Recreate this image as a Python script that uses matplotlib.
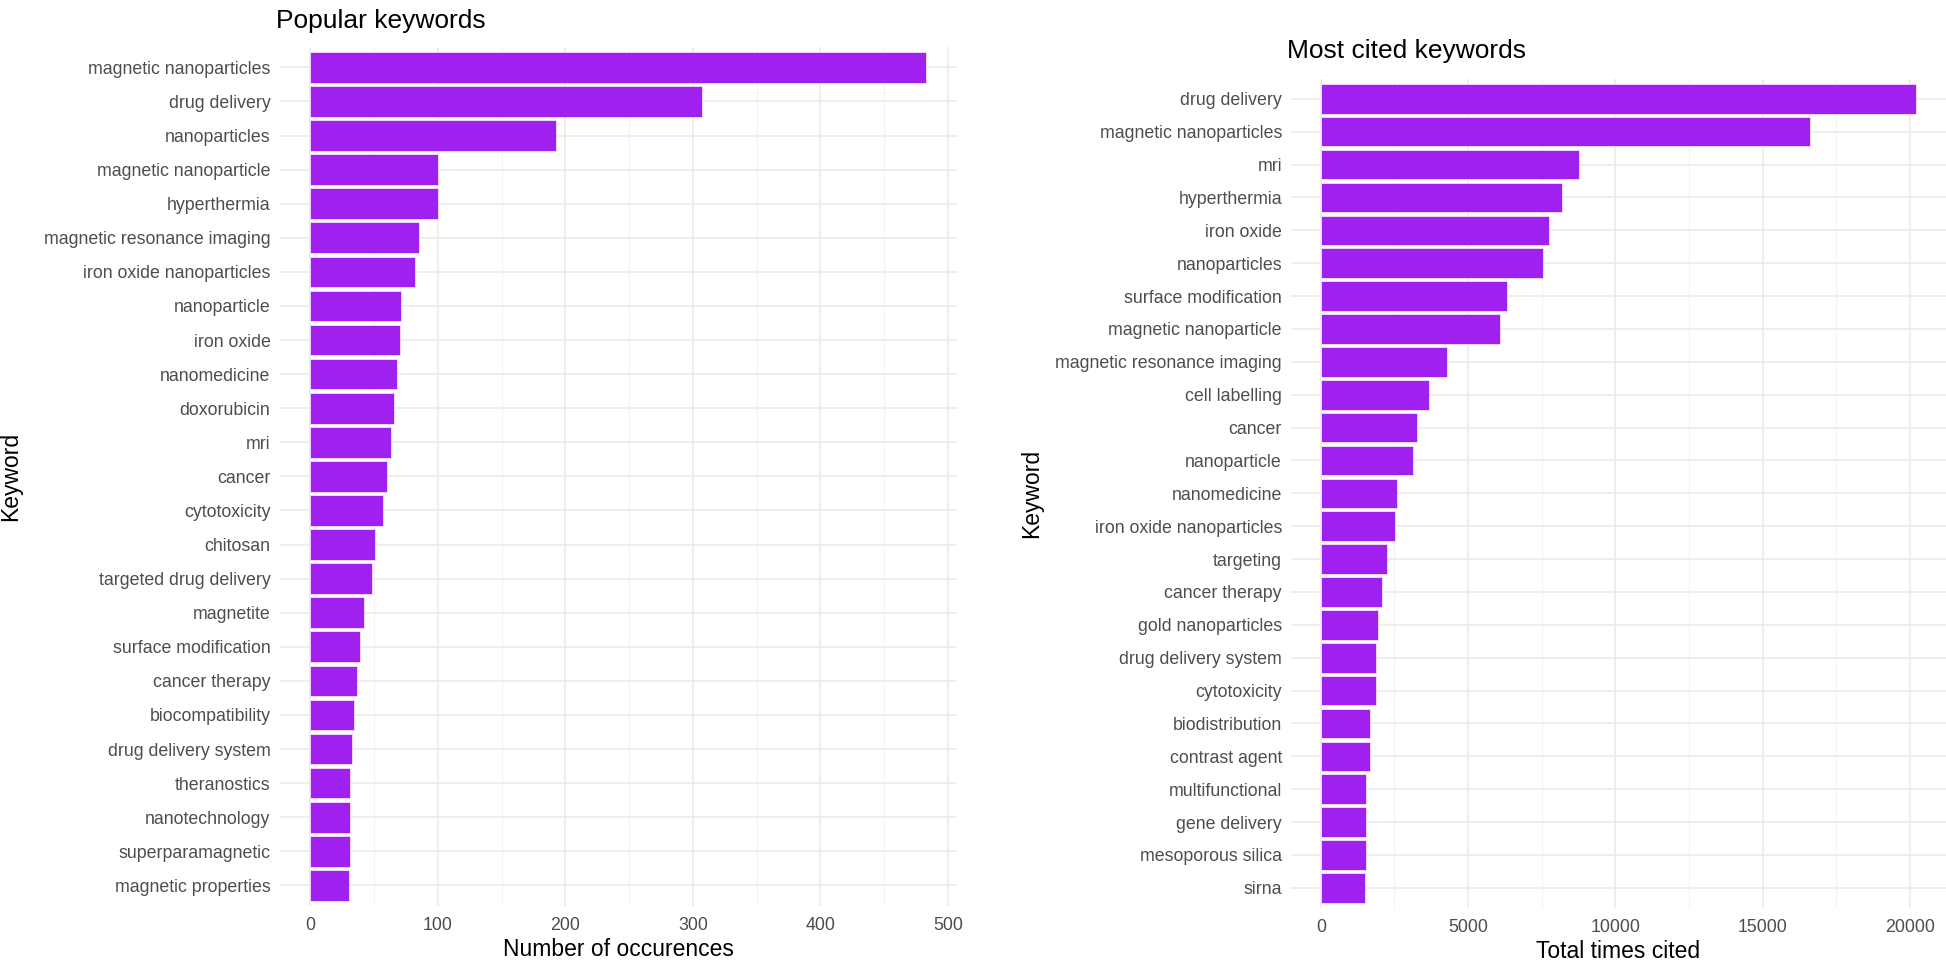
import matplotlib
matplotlib.use("Agg")
import matplotlib.pyplot as plt
import numpy as np

plt.rcParams['font.family'] = ['Liberation Sans', 'DejaVu Sans']

# left panel: number of occurences
pop_keywords = ["magnetic nanoparticles", "drug delivery", "nanoparticles",
                "magnetic nanoparticle", "hyperthermia", "magnetic resonance imaging",
                "iron oxide nanoparticles", "nanoparticle", "iron oxide", "nanomedicine",
                "doxorubicin", "mri", "cancer", "cytotoxicity", "chitosan",
                "targeted drug delivery", "magnetite", "surface modification",
                "cancer therapy", "biocompatibility", "drug delivery system",
                "theranostics", "nanotechnology", "superparamagnetic", "magnetic properties"]
pop_counts = [483, 307, 193, 100, 100, 85, 82, 71, 70, 68, 66, 63, 60, 57, 51,
              48, 42, 39, 37, 34, 33, 31, 31, 31, 30]

# right panel: total times cited
cited_keywords = ["drug delivery", "magnetic nanoparticles", "mri", "hyperthermia",
                  "iron oxide", "nanoparticles", "surface modification",
                  "magnetic nanoparticle", "magnetic resonance imaging", "cell labelling",
                  "cancer", "nanoparticle", "nanomedicine", "iron oxide nanoparticles",
                  "targeting", "cancer therapy", "gold nanoparticles",
                  "drug delivery system", "cytotoxicity", "biodistribution",
                  "contrast agent", "multifunctional", "gene delivery",
                  "mesoporous silica", "sirna"]
cited_totals = [20210, 16590, 8750, 8190, 7730, 7540, 6330, 6070, 4290, 3660,
                3270, 3140, 2580, 2510, 2260, 2070, 1950, 1890, 1860, 1680,
                1680, 1550, 1550, 1550, 1510]

pop_ticks = [0, 100, 200, 300, 400, 500]
pop_minor = [50, 150, 250, 350, 450]
cited_ticks = [0, 5000, 10000, 15000, 20000]
cited_minor = [2500, 7500, 12500, 17500]

BAR = "#A020F0"
GRID = "#EBEBEB"
W, H = 1946, 963

fig = plt.figure(figsize=(W / 100, H / 100), dpi=100)


def panel(rect, labels, values, ticks, minor, title, title_base, xlabel, xlab_y, ylab_x):
    ax = fig.add_axes(rect)
    n = len(labels)
    ypos = np.arange(n, 0, -1)
    ax.barh(ypos, values, height=0.9, color=BAR, edgecolor="#F3E0FA", lw=0.6, zorder=3)
    ax.set_yticks(ypos, labels)
    ax.set_ylim(0.4, n + 0.6)
    top = max(values)
    ax.set_xlim(-0.05 * top, 1.05 * top)
    ax.set_xticks(ticks)
    ax.set_xticks(minor, minor=True)
    ax.grid(True, which='major', color=GRID, lw=1.2, zorder=0)
    ax.grid(True, which='minor', axis='x', color="#F2F2F2", lw=0.7, zorder=0)
    ax.tick_params(which='both', length=0, labelsize=12.8, labelcolor="#4D4D4D")
    ax.tick_params(axis='y', pad=6.5)
    ax.tick_params(axis='x', pad=8)
    for s in ax.spines.values():
        s.set_visible(False)
    x0, y0, w, h = rect
    fig.text(x0 - 4 / W, 1 - title_base / H, title, ha='left', va='baseline', fontsize=19)
    fig.text(x0 + w / 2, 1 - xlab_y / H, xlabel, ha='center', va='center', fontsize=16.5)
    fig.text(ylab_x / W, y0 + h / 2, "Keyword", rotation=90, ha='center', va='center',
             fontsize=16.5)
    return ax


panel([279.5 / W, 1 - 905.8 / H, 677.5 / W, 858.9 / H], pop_keywords, pop_counts,
      pop_ticks, pop_minor, "Popular keywords", 28, "Number of occurences", 949, 11)
panel([1291 / W, 1 - 907.6 / H, 655 / W, 828.5 / H], cited_keywords, cited_totals,
      cited_ticks, cited_minor, "Most cited keywords", 58, "Total times cited", 951, 1032)

fig.savefig("out.png", dpi=100, facecolor="white")
